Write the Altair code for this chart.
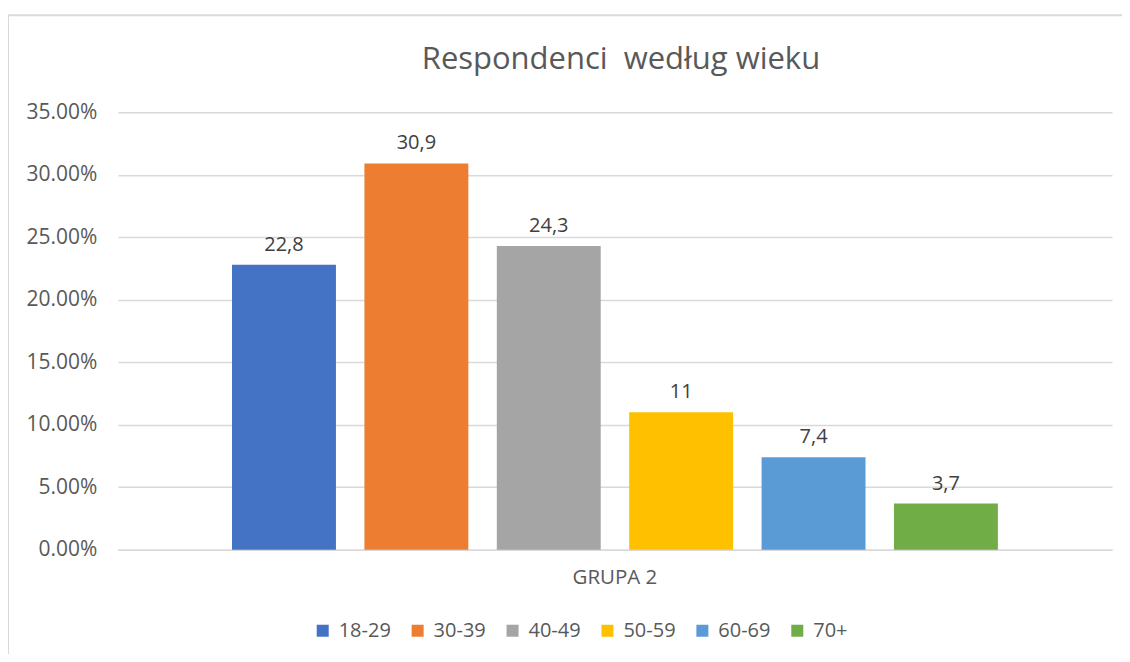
import altair as alt
import pandas as pd

groups = ["GRUPA 2"] * 6
ages = ["18-29", "30-39", "40-49", "50-59", "60-69", "70+"]
values = [22.8, 30.9, 24.3, 11, 7.4, 3.7]
labels = ["22,8", "30,9", "24,3", "11", "7,4", "3,7"]
colors = ["#4472C4", "#ED7D31", "#A5A5A5", "#FFC000", "#5B9BD5", "#70AD47"]

df = pd.DataFrame({"group": groups, "age": ages, "value": values, "label": labels})
df["frac"] = df["value"] / 100

FONT = "'Open Sans', 'Noto Sans', sans-serif"
GREY = "#595959"

x = alt.X("group:N", title=None,
          scale=alt.Scale(paddingInner=0, paddingOuter=0.149),
          axis=alt.Axis(labelAngle=0, ticks=False, domainColor="#d9d9d9", domainWidth=1.5,
                        labelFont=FONT, labelFontSize=20.5, labelColor=GREY,
                        labelPadding=18))
xo = alt.XOffset("age:N", sort=ages, scale=alt.Scale(paddingInner=0.215, paddingOuter=0))
y = alt.Y("frac:Q", title=None,
          scale=alt.Scale(domain=[0, 0.35], nice=False),
          axis=alt.Axis(format=".2%", values=[0, 0.05, 0.1, 0.15, 0.2, 0.25, 0.3, 0.35],
                        ticks=False, domain=False, gridColor="#d9d9d9", gridWidth=1.5,
                        labelFont=FONT, labelFontSize=21, labelColor=GREY,
                        labelPadding=21))

bars = alt.Chart(df).mark_bar().encode(
    x=x, xOffset=xo, y=y,
    color=alt.Color("age:N", sort=ages, scale=alt.Scale(domain=ages, range=colors),
                    legend=alt.Legend(title=None, orient="none", direction="horizontal",
                                      legendX=195, legendY=509, columns=6,
                                      symbolType="square", symbolSize=144,
                                      symbolStrokeWidth=0, symbolOffset=0,
                                      labelFont=FONT, labelFontSize=20,
                                      labelColor=GREY, labelOffset=6,
                                      columnPadding=16, gridAlign="none")),
)

text = alt.Chart(df).mark_text(baseline="alphabetic", dy=-14, font=FONT, fontSize=20,
                               color="#404040").encode(
    x=x, xOffset=xo, y=y, text="label:N")

frame = alt.Chart(df.head(1)).mark_rect(fill=None, stroke="#d9d9d9", strokeWidth=2).encode(
    x=alt.value(-110), x2=alt.value(1030), y=alt.value(-97), y2=alt.value(580))

chart = alt.layer(frame, bars, text).properties(
    width=995, height=438,
    title=alt.TitleParams("Respondenci\u00a0 według wieku", font=FONT, fontSize=31,
                          fontWeight="normal", color=GREY, anchor="middle",
                          offset=-62, dx=6),
    autosize=alt.AutoSizeParams(type="none"),
    padding={"left": 110, "top": 104, "right": 10, "bottom": 104},
).configure(background="white").configure_view(stroke=None)

chart.save("out.html", embed_options={"renderer": "svg", "actions": False})
